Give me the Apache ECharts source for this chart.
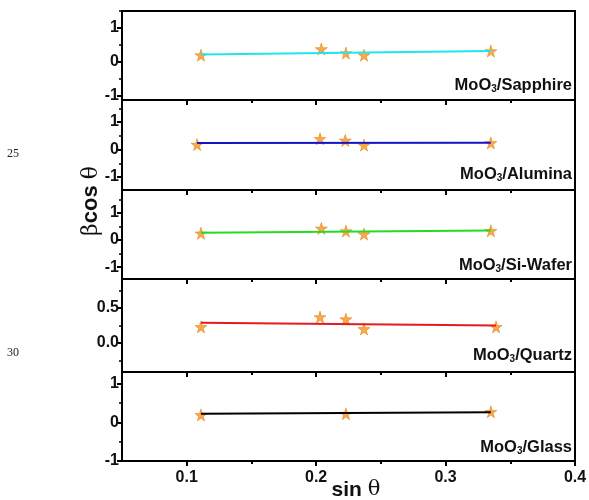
<!DOCTYPE html>
<html>
<head>
<meta charset="utf-8">
<script src="https://cdn.jsdelivr.net/npm/echarts@6/dist/echarts.min.js"></script>
<style>
  html, body { margin: 0; padding: 0; background: #fff; }
  #chart { width: 589px; height: 500px; }
</style>
</head>
<body>
<div id="chart"></div>
<script>
// Williamson–Hall plots (βcosθ vs sinθ) for MoO3 films on five substrates.
const panelNames = ['Sapphire', 'Alumina', 'Si-Wafer', 'Quartz', 'Glass'];
const lineColors = ['#22e4ee', '#1515c8', '#22dd22', '#e41a1c', '#000000'];

// measured points (sin θ, β cos θ)
const sinSapphire = [0.111, 0.204, 0.223, 0.237, 0.335];
const bcSapphire  = [0.20, 0.38, 0.26, 0.20, 0.32];
const sinAlumina  = [0.108, 0.203, 0.2225, 0.237, 0.335];
const bcAlumina   = [0.18, 0.39, 0.33, 0.16, 0.24];
const sinSiWafer  = [0.111, 0.204, 0.223, 0.237, 0.335];
const bcSiWafer   = [0.25, 0.43, 0.33, 0.22, 0.34];
const sinQuartz   = [0.111, 0.203, 0.223, 0.237, 0.339];
const bcQuartz    = [0.23, 0.37, 0.34, 0.20, 0.23];
const sinGlass    = [0.111, 0.223, 0.335];
const bcGlass     = [0.19, 0.22, 0.27];

// linear fits: end points
const fitXSapphire = [0.111, 0.335]; const fitYSapphire = [0.22, 0.32];
const fitXAlumina  = [0.108, 0.335]; const fitYAlumina  = [0.24, 0.25];
const fitXSiWafer  = [0.111, 0.335]; const fitYSiWafer  = [0.27, 0.35];
const fitXQuartz   = [0.111, 0.339]; const fitYQuartz   = [0.29, 0.25];
const fitXGlass    = [0.111, 0.335]; const fitYGlass    = [0.22, 0.26];

// y ranges and ticks per panel
const yMin = [-1.12, -1.47, -1.44, -0.414, -1.0];
const yMax = [1.5, 1.8, 1.85, 0.914, 1.3];
const yMajor = [[-1, 0, 1], [-1, 0, 1], [-1, 0, 1], [0, 0.5], [-1, 0, 1]];
const yMinor = [[-0.5, 0.5, 1.5], [-0.5, 0.5, 1.5], [-0.5, 0.5, 1.5],
                [-0.25, 0.25, 0.75], [-0.5, 0.5]];
const yLabelDigits = [0, 0, 0, 1, 0];

// x axis
const xMin = 0.05, xMax = 0.4;
const xMajor = [0.1, 0.2, 0.3, 0.4];
const xMinor = [0.15, 0.25, 0.35];

const sinData = [sinSapphire, sinAlumina, sinSiWafer, sinQuartz, sinGlass];
const bcData = [bcSapphire, bcAlumina, bcSiWafer, bcQuartz, bcGlass];
const fitX = [fitXSapphire, fitXAlumina, fitXSiWafer, fitXQuartz, fitXGlass];
const fitY = [fitYSapphire, fitYAlumina, fitYSiWafer, fitYQuartz, fitYGlass];

const panelTop = [11, 100, 190, 279, 372];
const panelHeight = [89, 90, 89, 93, 89];
const labelY = [87, 176, 267, 357, 449];

const starPath = 'path://M50,0 L61,35 L98,35 L68,57 L79,91 L50,70 L21,91 L32,57 L2,35 L39,35 Z';
const fontMain = 'Liberation Sans, Arial, sans-serif';

const grids = [], xAxes = [], yAxes = [], series = [], graphics = [];
const last = panelNames.length - 1;

panelNames.forEach((name, i) => {
  grids.push({
    left: 122, width: 453, top: panelTop[i], height: panelHeight[i],
    outerBoundsMode: 'none', containLabel: false,
    show: true, borderColor: '#000', borderWidth: 2, backgroundColor: 'transparent'
  });
  // major x ticks (labels only on the bottom panel)
  xAxes.push({
    type: 'value', gridIndex: i, min: xMin, max: xMax, position: 'bottom',
    splitLine: { show: false },
    axisLine: { show: true, onZero: false, lineStyle: { color: '#000', width: 2 } },
    axisTick: { show: true, customValues: xMajor, length: 5, lineStyle: { color: '#000', width: 2 } },
    axisLabel: {
      show: i === last, customValues: xMajor, color: '#111', fontSize: 16, fontWeight: 'bold',
      fontFamily: fontMain, margin: 9, formatter: v => v.toFixed(1)
    }
  });
  // minor x ticks
  xAxes.push({
    type: 'value', gridIndex: i, min: xMin, max: xMax, position: 'bottom',
    splitLine: { show: false }, axisLine: { show: false, onZero: false }, axisLabel: { show: false },
    axisTick: { show: true, customValues: xMinor, length: 3, lineStyle: { color: '#000', width: 2 } }
  });
  // major y ticks with labels
  yAxes.push({
    type: 'value', gridIndex: i, min: yMin[i], max: yMax[i], position: 'left',
    splitLine: { show: false },
    axisLine: { show: true, onZero: false, lineStyle: { color: '#000', width: 2 } },
    axisTick: { show: true, customValues: yMajor[i], length: 5, lineStyle: { color: '#000', width: 2 } },
    axisLabel: {
      show: true, customValues: yMajor[i], color: '#111', fontSize: 16, fontWeight: 'bold',
      fontFamily: fontMain, margin: 3,
      formatter: (v) => yLabelDigits[i] ? v.toFixed(yLabelDigits[i]) : String(Math.round(v))
    }
  });
  // minor y ticks
  yAxes.push({
    type: 'value', gridIndex: i, min: yMin[i], max: yMax[i], position: 'left', offset: 0,
    splitLine: { show: false }, axisLine: { show: false, onZero: false }, axisLabel: { show: false },
    axisTick: { show: true, customValues: yMinor[i], length: 3, lineStyle: { color: '#000', width: 1.5 } }
  });

  series.push({
    type: 'scatter', xAxisIndex: 2 * i, yAxisIndex: 2 * i,
    data: sinData[i].map((x, k) => [x, bcData[i][k]]),
    symbol: starPath, symbolSize: 12,
    itemStyle: { color: '#f7941d', borderColor: '#e07400', borderWidth: 0.6 },
    z: 2
  });
  series.push({
    type: 'line', xAxisIndex: 2 * i, yAxisIndex: 2 * i,
    data: fitX[i].map((x, k) => [x, fitY[i][k]]),
    showSymbol: false, symbol: 'none',
    lineStyle: { color: lineColors[i], width: 2 },
    z: 3
  });

  graphics.push({
    type: 'text', right: 589 - 572, top: labelY[i] - 10,
    style: {
      text: '{a|MoO}{s|3}{a|/' + name + '}',
      rich: {
        a: { fontSize: 16.5, fontWeight: 'bold', fontFamily: fontMain, fill: '#111', lineHeight: 20, verticalAlign: 'bottom' },
        s: { fontSize: 10, fontWeight: 'bold', fontFamily: fontMain, fill: '#111', lineHeight: 12, verticalAlign: 'bottom' }
      }
    }
  });
});

// x-axis title
graphics.push({
  type: 'text', x: 356, y: 490,
  style: {
    text: '{t|sin }{g|θ}',
    align: 'center', verticalAlign: 'middle',
    rich: {
      t: { fontSize: 21, fontWeight: 'bold', fontFamily: fontMain, fill: '#111' },
      g: { fontSize: 21, fontFamily: 'DejaVu Serif, serif', fill: '#111' }
    }
  }
});
// y-axis title
graphics.push({
  type: 'text', x: 91, y: 201, rotation: Math.PI / 2,
  style: {
    text: '{g|β}{t|cos }{g|θ}',
    align: 'center', verticalAlign: 'middle',
    rich: {
      t: { fontSize: 22, fontWeight: 'bold', fontFamily: fontMain, fill: '#111' },
      g: { fontSize: 22, fontFamily: 'DejaVu Serif, serif', fill: '#111' }
    }
  }
});
// manuscript line numbers
graphics.push({ type: 'text', x: 7, y: 154, style: { text: '25', font: '12px Liberation Serif, serif', fill: '#222', verticalAlign: 'middle' } });
graphics.push({ type: 'text', x: 7, y: 353, style: { text: '30', font: '12px Liberation Serif, serif', fill: '#222', verticalAlign: 'middle' } });

const chart = echarts.init(document.getElementById('chart'), null, { renderer: 'canvas' });
chart.setOption({
  animation: false,
  backgroundColor: '#fff',
  grid: grids, xAxis: xAxes, yAxis: yAxes, series: series, graphic: graphics
});
</script>
</body>
</html>
